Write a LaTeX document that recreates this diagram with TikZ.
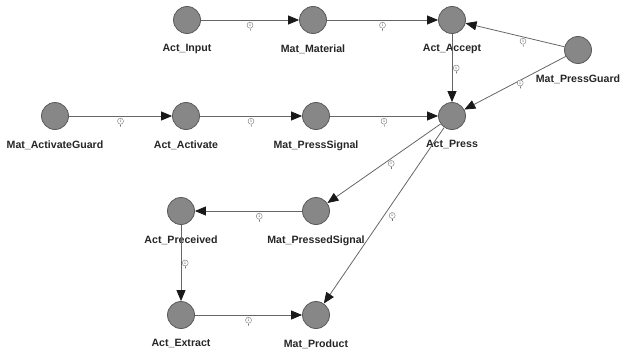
\documentclass[tikz,border=0pt]{standalone}
\usepackage{fontspec}
\setmainfont{Liberation Sans}
\usepackage{tikz}
\usetikzlibrary{
  arrows.meta,
  positioning,
}
\tikzstyle{place} = [
  circle,
  draw=black!65,
  fill=black!47,
  line width=0.8pt,
  minimum size=27pt,
  inner sep=0pt,
]
\tikzstyle{lbl} = [
  font=\fontsize{10.6}{11}\bfseries,
  text=black!85,
  inner sep=0pt,
]
\tikzstyle{arc} = [
  -{Triangle[length=11pt,width=9pt,color=black!90]},
  line width=0.8pt,
  draw=black!60,
]
\tikzstyle{mult} = [
  circle,
  draw=black!55,
  fill=white,
  line width=0.4pt,
  minimum size=6pt,
  inner sep=0pt,
  font=\fontsize{3.5}{4}\selectfont,
  text=black!70,
  label={[draw=black!55, line width=0.4pt, inner sep=0pt, minimum width=0pt,
          minimum height=2pt, label distance=0pt]below:{}},
]

\begin{document}
\begin{tikzpicture}[x=1pt, y=-1pt, every label/.style={lbl}, label distance=10.5pt]

  \useasboundingbox (0,0) rectangle (620,353);

  % Places, first row
  \node [place, label=below:Act\_Input]      (actinput)    at (187,20)  {};
  \node [place, label=below:Mat\_Material]   (matmaterial) at (313,20)  {};
  \node [place, label=below:Act\_Accept]     (actaccept)   at (452,20)  {};
  \node [place, label=below:Mat\_PressGuard] (matguard)    at (578,50)  {};

  % Places, second row
  \node [place, label=below:Mat\_ActivateGuard] (matactguard) at (55,116)  {};
  \node [place, label=below:Act\_Activate]      (actactivate) at (186,116) {};
  \node [place, label=below:Mat\_PressSignal]   (matsignal)   at (316,116) {};
  \node [place, label=below:Act\_Press]         (actpress)    at (452,116) {};

  % Places, lower part
  \node [place, label=below:Act\_Preceived]     (actreceived) at (181,211) {};
  \node [place, label=below:Mat\_PressedSignal] (matpressed)  at (316,211) {};
  \node [place, label=below:Act\_Extract]       (actextract)  at (181,315) {};
  \node [place, label=below:Mat\_Product]       (matproduct)  at (316,315) {};

  % Arcs
  \draw [arc] (actinput) -- node [mult, below=2pt] {1} (matmaterial);
  \draw [arc] (matmaterial) -- node [mult, below=2pt] {1} (actaccept);
  \draw [arc] (matguard) -- node [mult, below=3pt, xshift=8pt] {1} (actaccept);
  \draw [arc] (actaccept) -- node [mult, right=1pt] {1} (actpress);
  \draw [arc] (matguard) -- node [mult, right=2pt] {1} (actpress);

  \draw [arc] (matactguard) -- node [mult, below=2pt] {1} (actactivate);
  \draw [arc] (actactivate) -- node [mult, below=2pt] {1} (matsignal);
  \draw [arc] (matsignal) -- node [mult, below=2pt] {1} (actpress);

  \draw [arc] (actpress) -- node [mult, right=4pt] {1} (matpressed);
  \draw [arc] (actpress) -- node [mult, right=5pt] {1} (matproduct);
  \draw [arc] (matpressed) -- node [mult, below=2pt, pos=0.4] {1} (actreceived);
  \draw [arc] (actreceived) -- node [mult, right=1pt] {1} (actextract);
  \draw [arc] (actextract) -- node [mult, below=2pt] {1} (matproduct);

\end{tikzpicture}
\end{document}
